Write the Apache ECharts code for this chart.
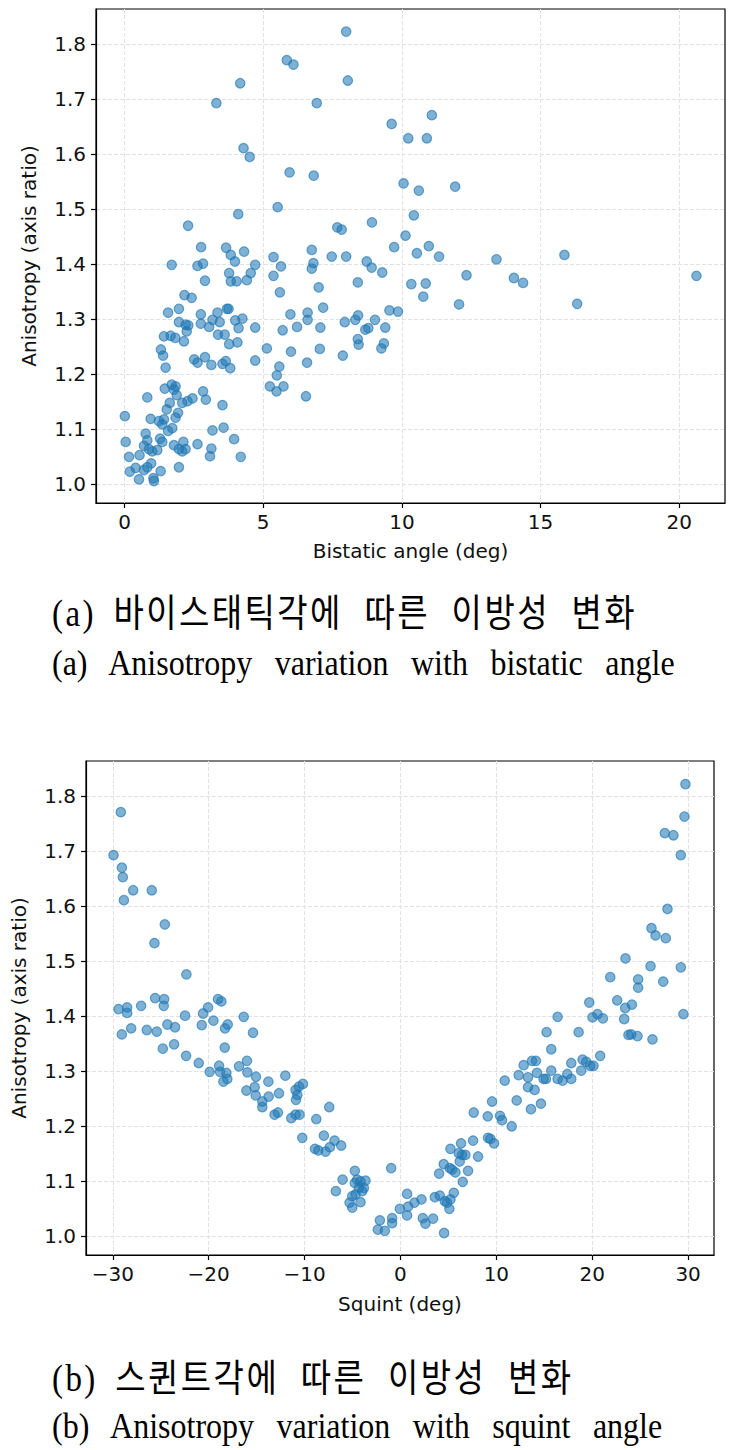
<!DOCTYPE html>
<html>
<head>
<meta charset="utf-8">
<script src="https://cdn.jsdelivr.net/npm/echarts@6/dist/echarts.min.js"></script>
<style>
  html, body { margin: 0; padding: 0; background: #fff; }
  #wrap { position: relative; width: 732px; height: 1450px; overflow: hidden; }
  #chart { position: absolute; left: 0; top: 0; width: 732px; height: 1450px; }
  .cap {
    position: absolute; left: 52px; white-space: nowrap; color: #000;
    font-family: "Liberation Serif", "Noto Sans CJK KR", serif;
    font-size: 32px; line-height: 36px;
    transform: scaleY(1.15); transform-origin: left center;
  }
  .ko { font-size: 33px; word-spacing: 11px; letter-spacing: 2.4px; }
  .ko .lbl { margin-right: -4px; }
  .en { word-spacing: 14.5px; }
</style>
</head>
<body>
<div id="wrap">
  <div id="chart"></div>
  <div class="cap ko" style="top:595px"><span class="lbl">(a)</span> 바이스태틱각에 따른 이방성 변화</div>
  <div class="cap en" style="top:644px">(a) Anisotropy variation with bistatic angle</div>
  <div class="cap ko" style="top:1360px"><span class="lbl">(b)</span> 스퀸트각에 따른 이방성 변화</div>
  <div class="cap en" style="top:1407px">(b) Anisotropy variation with squint angle</div>
</div>
<script>
// (a) bistatic angle vs anisotropy
const bistaticX = [
  5.85, 6.09, 4.17, 3.31, 4.29, 4.51, 5.95, 5.52, 4.10, 2.29, 2.76, 3.66,
  7.99, 8.05, 6.93, 11.08, 9.63, 10.23, 10.90, 6.82, 10.06, 10.61, 11.92, 10.43,
  8.92, 7.67, 7.83, 10.13, 6.75, 9.72, 10.97, 10.54, 7.47, 7.99, 11.34, 13.41,
  8.73, 6.81, 6.75, 8.91, 9.29, 8.41, 7.00, 10.34, 10.86, 10.77, 12.33, 12.06,
  14.04, 7.16, 7.06, 7.94, 8.32, 8.42, 9.03, 8.68, 8.79, 9.40, 9.55, 9.86,
  8.41, 8.44, 9.35, 9.26, 7.04, 7.87, 14.37, 15.86, 16.32, 20.62,
  3.83, 3.98, 4.31, 1.70, 2.63, 2.83, 2.90, 3.77, 3.83, 4.04, 4.41, 4.55,
  4.71, 5.37, 5.64, 5.37, 5.60, 5.98, 6.22, 5.70, 6.60, 6.60, 6.00, 5.13,
  6.58, 4.71, 4.71, 5.58, 5.49, 5.24, 5.48, 5.73, 6.54, 2.16, 2.42, 1.57,
  1.96, 1.42, 1.66, 1.83, 1.96, 2.20, 2.30, 2.24, 2.14, 2.75, 2.75, 3.05,
  3.17, 3.35, 3.43, 3.37, 3.61, 3.69, 3.75, 3.99, 4.25, 4.11, 3.77, 4.07,
  1.31, 1.39, 1.48, 2.51, 2.63, 2.90, 3.13, 3.53, 3.65, 3.81, 1.70, 1.84,
  1.45, 1.78, 1.88, 1.63, 2.08, 2.27, 2.45, 0.82, 2.83, 2.93, 3.53, 0.01,
  0.94, 1.24, 1.42, 1.52, 1.36, 1.57, 1.72, 1.84, 1.93, 3.17, 3.57, 3.95,
  0.04, 0.16, 0.54, 0.76, 0.82, 0.70, 0.88, 1.00, 1.18, 1.28, 1.36, 1.78,
  1.96, 2.12, 2.08, 2.20, 2.63, 3.13, 3.08, 4.19, 0.19, 0.40, 0.52, 0.70,
  0.82, 0.96, 1.04, 1.06, 1.30, 1.96
];
const bistaticY = [
  1.771, 1.763, 1.729, 1.693, 1.611, 1.595, 1.567, 1.504, 1.491, 1.470, 1.431, 1.430,
  1.823, 1.734, 1.693, 1.671, 1.655, 1.629, 1.629, 1.561, 1.547, 1.534, 1.541, 1.489,
  1.476, 1.467, 1.463, 1.452, 1.426, 1.431, 1.433, 1.420, 1.414, 1.414, 1.414, 1.409,
  1.405, 1.402, 1.392, 1.394, 1.385, 1.367, 1.358, 1.364, 1.365, 1.341, 1.380, 1.327,
  1.375, 1.321, 1.285, 1.295, 1.299, 1.307, 1.299, 1.281, 1.284, 1.285, 1.316, 1.314,
  1.264, 1.254, 1.256, 1.247, 1.246, 1.234, 1.366, 1.417, 1.328, 1.379,
  1.417, 1.405, 1.423, 1.399, 1.397, 1.401, 1.370, 1.384, 1.369, 1.369, 1.371, 1.384,
  1.399, 1.413, 1.396, 1.379, 1.349, 1.309, 1.286, 1.280, 1.312, 1.299, 1.241, 1.247,
  1.221, 1.225, 1.285, 1.214, 1.198, 1.178, 1.169, 1.178, 1.160, 1.344, 1.339, 1.312,
  1.319, 1.269, 1.270, 1.266, 1.295, 1.290, 1.289, 1.278, 1.260, 1.309, 1.292, 1.286,
  1.299, 1.312, 1.295, 1.272, 1.272, 1.319, 1.319, 1.298, 1.301, 1.284, 1.255, 1.258,
  1.245, 1.234, 1.212, 1.227, 1.221, 1.231, 1.217, 1.219, 1.224, 1.211, 1.181, 1.178,
  1.174, 1.172, 1.162, 1.148, 1.148, 1.151, 1.156, 1.158, 1.169, 1.154, 1.144, 1.124,
  1.119, 1.115, 1.118, 1.136, 1.109, 1.097, 1.102, 1.121, 1.130, 1.098, 1.103, 1.082,
  1.077, 1.050, 1.053, 1.092, 1.080, 1.070, 1.064, 1.060, 1.062, 1.083, 1.077, 1.071,
  1.064, 1.077, 1.060, 1.064, 1.073, 1.065, 1.051, 1.050, 1.023, 1.030, 1.009, 1.026,
  1.031, 1.038, 1.011, 1.006, 1.024, 1.031
];

// (b) squint angle vs anisotropy
const squintX = [
  -29.17, -29.93, -29.06, -28.96, -27.88, -25.94, -28.85, -24.58, -25.66, -22.33, -25.59, -24.65,
  -24.69, -27.05, -29.41, -28.51, -19.03, -18.68, -20.07, -28.51, -29.06, -28.09, -26.46, -25.42,
  -24.31, -23.51, -24.79, -23.61, -22.47, -22.36, -21.04, -20.73, -20.59, -19.51, -19.90, -18.92,
  -18.82, -18.30, -18.02, -18.33, -18.47, -18.06, -18.16, -16.35, -15.38, -16.84, -16.01, -15.97,
  -15.07, -13.78, -12.01, -16.07, -15.21, -15.10, -14.41, -14.41, -13.75, -12.67, -13.13, -12.78,
  -11.39, -10.17, -10.59, -10.94, -10.76, -10.90, -10.94, -10.52, -10.24, -8.78, -7.43, -7.99,
  -8.92, -8.57, -7.81, -7.36, -6.88, -6.18, -6.04, -6.74, -4.76, -4.76, -4.51, -4.17,
  -3.65, -4.34, -3.99, -3.82, -5.03, -4.69, -5.31, -5.03, -4.17, -0.97, -2.15, -2.36,
  -1.63, -0.87, -0.87, -0.07, 0.69, 0.69, 0.80, 1.46, 2.19, 2.33, 2.60, 3.40,
  3.58, 4.10, 4.55, 4.62, 4.86, 5.21, 5.10, 5.56, 4.03, 4.51, 5.14, 5.38,
  5.73, 5.21, 6.08, 6.42, 6.77, 6.18, 6.32, 6.49, 7.05, 7.57, 8.09, 7.64,
  9.10, 9.55, 9.13, 9.38, 9.76, 10.38, 10.59, 10.87, 11.60, 12.12, 13.61, 14.65,
  13.30, 13.99, 12.33, 12.85, 13.30, 13.72, 14.13, 14.24, 14.93, 15.17, 15.73, 15.73,
  15.24, 16.39, 16.39, 16.91, 17.81, 17.40, 17.81, 18.58, 18.85, 18.99, 19.38, 19.79,
  20.14, 20.83, 19.69, 20.03, 20.55, 21.11, 22.60, 23.44, 24.14, 23.33, 23.78, 24.06,
  24.72, 26.28, 29.51, 29.72, 29.62, 27.57, 28.47, 29.24, 27.85, 26.18, 26.60, 27.67,
  23.47, 26.08, 29.24, 21.88, 24.79, 24.79, 27.40
];
const squintY = [
  1.771, 1.693, 1.670, 1.653, 1.629, 1.629, 1.611, 1.567, 1.533, 1.476, 1.433, 1.431,
  1.419, 1.419, 1.413, 1.416, 1.431, 1.427, 1.416, 1.406, 1.367, 1.378, 1.375, 1.372,
  1.385, 1.380, 1.341, 1.349, 1.401, 1.328, 1.315, 1.384, 1.405, 1.392, 1.299, 1.310,
  1.299, 1.378, 1.385, 1.343, 1.281, 1.286, 1.297, 1.399, 1.370, 1.309, 1.319, 1.298,
  1.290, 1.281, 1.292, 1.265, 1.271, 1.256, 1.245, 1.235, 1.254, 1.260, 1.221, 1.225,
  1.215, 1.277, 1.272, 1.266, 1.257, 1.248, 1.221, 1.221, 1.179, 1.213, 1.235, 1.183,
  1.159, 1.156, 1.154, 1.162, 1.174, 1.165, 1.103, 1.082, 1.119, 1.097, 1.103, 1.100,
  1.101, 1.088, 1.082, 1.088, 1.073, 1.076, 1.061, 1.052, 1.062, 1.124, 1.029, 1.012,
  1.010, 1.033, 1.024, 1.050, 1.077, 1.038, 1.054, 1.061, 1.067, 1.033, 1.023, 1.032,
  1.071, 1.074, 1.006, 1.064, 1.061, 1.067, 1.050, 1.079, 1.114, 1.131, 1.124, 1.121,
  1.116, 1.159, 1.151, 1.148, 1.148, 1.136, 1.169, 1.099, 1.119, 1.174, 1.145, 1.225,
  1.218, 1.245, 1.179, 1.177, 1.169, 1.219, 1.211, 1.283, 1.200, 1.247, 1.231, 1.241,
  1.271, 1.266, 1.293, 1.311, 1.289, 1.319, 1.319, 1.297, 1.286, 1.286, 1.301, 1.340,
  1.371, 1.399, 1.286, 1.283, 1.286, 1.295, 1.315, 1.371, 1.301, 1.321, 1.317, 1.310,
  1.310, 1.328, 1.425, 1.398, 1.404, 1.396, 1.429, 1.415, 1.421, 1.395, 1.366, 1.367,
  1.364, 1.358, 1.404, 1.822, 1.763, 1.733, 1.729, 1.693, 1.595, 1.560, 1.547, 1.542,
  1.505, 1.491, 1.489, 1.471, 1.467, 1.452, 1.463
];

const yTicks = [1.0, 1.1, 1.2, 1.3, 1.4, 1.5, 1.6, 1.7, 1.8];
const bistaticTicks = [0, 5, 10, 15, 20];
const squintTicks = [-30, -20, -10, 0, 10, 20, 30];

const FONT = 'DejaVu Sans';
const FS = 20;
const gridLine = { show: true, lineStyle: { color: '#e2e2e2', type: [4, 2], width: 1 } };
const black = { color: '#000', width: 1.2 };

function xAxis(gridIndex, min, max, ticks, name, gap) {
  return {
    type: 'value', gridIndex, min, max, name,
    nameLocation: 'middle', nameGap: gap,
    nameTextStyle: { fontFamily: FONT, fontSize: FS, color: '#111' },
    axisLine: { show: true, onZero: false, lineStyle: black },
    axisTick: { show: true, inside: false, length: 5, customValues: ticks, lineStyle: black },
    axisLabel: {
      customValues: ticks, margin: 9, fontFamily: FONT, fontSize: FS, color: '#111',
      formatter: v => String(v).replace('-', '\u2212'),
    },
    splitLine: gridLine,
  }
}

function yAxis(gridIndex, name) {
  return {
    type: 'value', gridIndex, min: 0.966, max: 1.864, name,
    nameLocation: 'middle', nameGap: 57,
    nameTextStyle: { fontFamily: FONT, fontSize: FS, color: '#111' },
    axisLine: { show: true, onZero: false, lineStyle: black },
    axisTick: { show: true, inside: false, length: 5, customValues: yTicks, lineStyle: black },
    axisLabel: {
      customValues: yTicks, margin: 10, fontFamily: FONT, fontSize: FS, color: '#111',
      formatter: v => v.toFixed(1),
    },
    splitLine: gridLine,
  }
}

const dot = {
  color: 'rgba(31,119,180,0.72)',
  borderColor: 'rgba(31,119,180,0.8)',
  borderWidth: 1.2,
};

const chart = echarts.init(document.getElementById('chart'), null, { renderer: 'svg' });
chart.setOption({
  animation: false,
  backgroundColor: '#fff',
  grid: [
    { left: 96, top: 9, width: 629, height: 494, show: true, borderColor: '#000', borderWidth: 1.2, outerBoundsMode: 'none' },
    { left: 86, top: 761, width: 628, height: 494, show: true, borderColor: '#000', borderWidth: 1.2, outerBoundsMode: 'none' },
  ],
  xAxis: [
    xAxis(0, -1.03, 21.65, bistaticTicks, 'Bistatic angle (deg)', 38),
    xAxis(1, -32.8, 32.7, squintTicks, 'Squint (deg)', 39),
  ],
  yAxis: [
    yAxis(0, 'Anisotropy (axis ratio)'),
    yAxis(1, 'Anisotropy (axis ratio)'),
  ],
  series: [
    {
      type: 'scatter', xAxisIndex: 0, yAxisIndex: 0, symbolSize: 9.5,
      data: bistaticX.map((x, i) => [x, bistaticY[i]]),
      itemStyle: dot,
    },
    {
      type: 'scatter', xAxisIndex: 1, yAxisIndex: 1, symbolSize: 9.5,
      data: squintX.map((x, i) => [x, squintY[i]]),
      itemStyle: dot,
    },
  ],
});
</script>
</body>
</html>
